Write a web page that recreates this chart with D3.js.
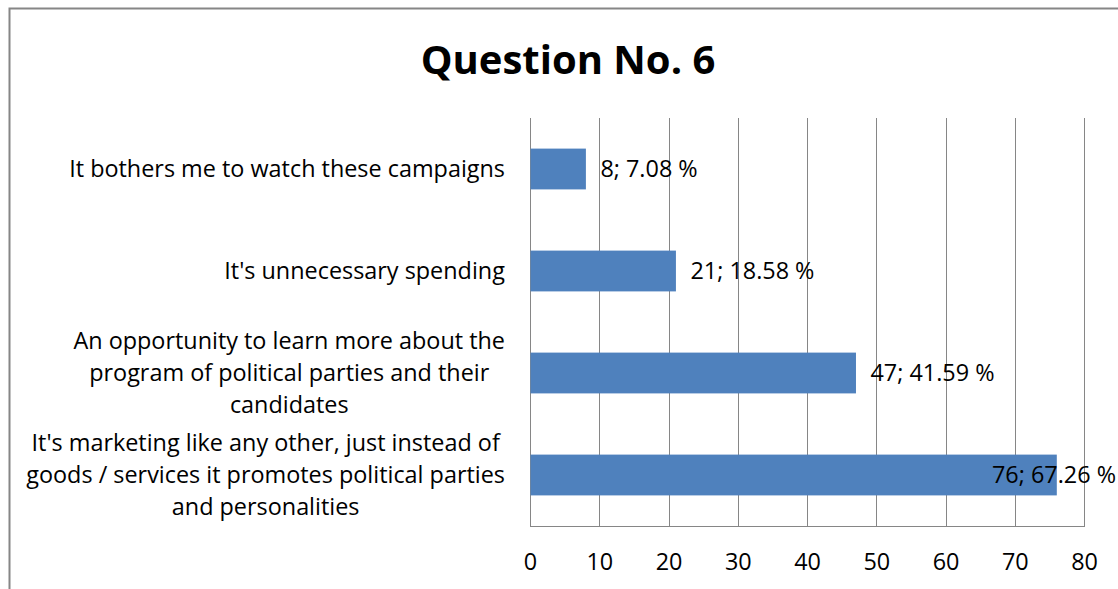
<!DOCTYPE html>
<html>
<head>
<meta charset="utf-8">
<script src="https://cdn.jsdelivr.net/npm/d3@7"></script>
<style>
  html, body { margin: 0; padding: 0; background: #fff; }
  svg { display: block; }
  text { font-family: "Open Sans", Lato, sans-serif; fill: #000; }
</style>
</head>
<body>
<svg id="chart" width="1118" height="589"></svg>
<script>
// Answers to question 6, listed top to bottom
const categories = [
  "It bothers me to watch these campaigns",
  "It's unnecessary spending",
  "An opportunity to learn more about the\nprogram of political parties and their\ncandidates",
  "It's marketing like any other, just instead of\ngoods / services it promotes political parties\nand personalities"
];
const counts = [8, 21, 47, 76];
const percents = ["7.08", "18.58", "41.59", "67.26"];
const xTicks = [0, 10, 20, 30, 40, 50, 60, 70, 80];
const chartTitle = "Question No. 6";

const svg = d3.select("#chart");
const W = 1118, H = 589;
const plot = { left: 530, right: 1084, top: 118, bottom: 526 };
const fs = "23.4px";

// outer chart frame
svg.append("rect")
  .attr("x", 9.5).attr("y", 8.5)
  .attr("width", W + 10).attr("height", H + 10)
  .attr("fill", "#fff").attr("stroke", "#868686").attr("stroke-width", 2);

svg.append("text")
  .attr("x", 568).attr("y", 74)
  .attr("text-anchor", "middle")
  .style("font-size", "40px").style("font-weight", "bold")
  .text(chartTitle);

const x = d3.scaleLinear().domain([0, 80]).range([plot.left, plot.right]);
const y = d3.scaleBand().domain(d3.range(categories.length))
  .range([plot.top, plot.bottom]).paddingInner(0.6).paddingOuter(0.3);

// vertical gridlines
svg.append("g").selectAll("line").data(xTicks).join("line")
  .attr("x1", d => Math.round(x(d)) + 0.5).attr("x2", d => Math.round(x(d)) + 0.5)
  .attr("y1", plot.top).attr("y2", plot.bottom)
  .attr("stroke", "#868686").attr("stroke-width", 1);

// baseline along the bottom
svg.append("line")
  .attr("x1", plot.left).attr("x2", plot.right + 1)
  .attr("y1", plot.bottom + 0.5).attr("y2", plot.bottom + 0.5)
  .attr("stroke", "#868686");

// x axis tick labels
const xAxis = d3.axisBottom(x).tickValues(xTicks).tickSize(0).tickPadding(0);
const gx = svg.append("g").attr("transform", `translate(0,${plot.bottom})`).call(xAxis);
gx.select(".domain").remove();
gx.selectAll("text")
  .attr("y", 44).attr("dy", null)
  .style("font-size", fs).style("font-family", "'Open Sans', Lato, sans-serif")
  .attr("fill", "#000");

// bars
svg.append("g").selectAll("rect").data(counts).join("rect")
  .attr("x", x(0) + 0.5)
  .attr("y", (d, i) => y(i))
  .attr("width", d => x(d) - x(0))
  .attr("height", y.bandwidth())
  .attr("fill", "#4F81BD");

// value labels: count; percent
const labelRight = 1116;
svg.append("g").selectAll("text").data(counts).join("text")
  .attr("y", (d, i) => y(i) + y.bandwidth() / 2 + 8)
  .style("font-size", fs)
  .text((d, i) => `${d}; ${percents[i]} %`)
  .each(function (d) {
    const w = this.getComputedTextLength();
    const start = Math.min(x(d) + 15, labelRight - w);
    d3.select(this).attr("x", start);
  });

// category labels, each block right-aligned to the axis and its lines centred
const labelEdge = 505, lineH = 32;
categories.forEach((c, i) => {
  const lines = c.split("\n");
  const g = svg.append("g");
  const t = g.append("text").style("font-size", fs).attr("text-anchor", "middle");
  lines.forEach((ln, k) => {
    t.append("tspan").attr("x", 0)
      .attr("y", (k - (lines.length - 1) / 2) * lineH + 8)
      .text(ln);
  });
  const bw = t.node().getBBox().width;
  g.attr("transform", `translate(${labelEdge - bw / 2},${y(i) + y.bandwidth() / 2})`);
});
</script>
</body>
</html>
